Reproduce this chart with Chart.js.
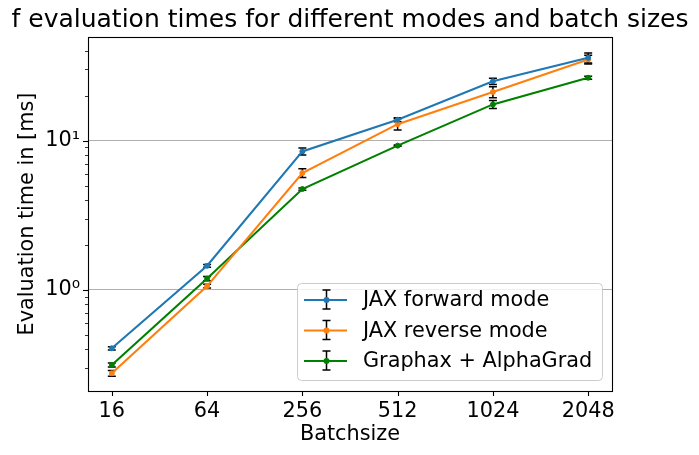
<!DOCTYPE html>
<html>
<head>
<meta charset="utf-8">
<script src="https://cdn.jsdelivr.net/npm/chart.js@4/dist/chart.umd.min.js"></script>
<style>
  html, body { margin: 0; padding: 0; background: #fff; }
  #wrap { width: 699px; height: 455px; }
</style>
</head>
<body>
<div id="wrap"><canvas id="chart" width="699" height="455"></canvas></div>
<script>
// --- Data ---
const batchLabels = ['16', '64', '256', '512', '1024', '2048'];

const forwardTimes = [0.406, 1.45, 8.47, 13.8, 25.0, 35.9];
const forwardErr   = [0.01, 0.03, 0.45, 0.42, 1.2, 2.8];

const reverseTimes = [0.276, 1.06, 6.07, 12.9, 21.2, 35.0];
const reverseErr   = [0.012, 0.03, 0.4, 1.1, 1.8, 2.4];

const alphaTimes = [0.314, 1.19, 4.74, 9.26, 17.5, 26.4];
const alphaErr   = [0.01, 0.04, 0.08, 0.1, 1.1, 0.6];

const seriesNames = ['JAX forward mode', 'JAX reverse mode', 'Graphax + AlphaGrad'];
const seriesColors = ['#1f77b4', '#ff7f0e', '#008000'];

const yTickValues = [0.3, 0.4, 0.5, 0.6, 0.7, 0.8, 0.9, 1, 2, 3, 4, 5, 6, 7, 8, 9, 10, 20, 30, 40];
const yMajorTicks = [1, 10];
const yMajorLabels = { 1: '10\u2070', 10: '10\u00b9' };

const chartTitle = 'f evaluation times for different modes and batch sizes';

const FONT = 'DejaVu Sans';
Chart.defaults.font.family = FONT;
Chart.defaults.color = '#000';

function toPoints(values) {
    return values.map((v, i) => ({ x: i, y: v }));
}

const allErrors = [forwardErr, reverseErr, alphaErr];
const allTimes = [forwardTimes, reverseTimes, alphaTimes];

// --- Plugins ---

// error bars, drawn under the lines
const errorBarPlugin = {
    id: 'errorBars',
    beforeDatasetsDraw(chart) {
        const ctx = chart.ctx;
        const yScale = chart.scales.y;
        ctx.save();
        ctx.strokeStyle = '#000';
        ctx.lineWidth = 1.5;
        chart.data.datasets.forEach((ds, di) => {
            const meta = chart.getDatasetMeta(di);
            meta.data.forEach((pt, j) => {
                const v = allTimes[di][j];
                const e = allErrors[di][j];
                const yTop = yScale.getPixelForValue(v + e);
                const yBot = yScale.getPixelForValue(v - e);
                ctx.beginPath();
                ctx.moveTo(pt.x, yTop);
                ctx.lineTo(pt.x, yBot);
                ctx.moveTo(pt.x - 4, yTop);
                ctx.lineTo(pt.x + 4, yTop);
                ctx.moveTo(pt.x - 4, yBot);
                ctx.lineTo(pt.x + 4, yBot);
                ctx.stroke();
            });
        });
        ctx.restore();
    }
};

// title, axes frame, tick marks and the legend box
const framePlugin = {
    id: 'frame',
    afterDraw(chart) {
        const ctx = chart.ctx;
        const area = chart.chartArea;
        const xScale = chart.scales.x;
        const yScale = chart.scales.y;
        ctx.save();

        // title centred over the axes
        ctx.fillStyle = '#000';
        ctx.font = '25px "' + FONT + '"';
        ctx.textAlign = 'center';
        ctx.textBaseline = 'middle';
        ctx.fillText(chartTitle, (area.left + area.right) / 2, 20);

        // tick marks
        ctx.strokeStyle = '#000';
        yTickValues.forEach(v => {
            const y = Math.round(yScale.getPixelForValue(v)) + 0.5;
            const major = yMajorTicks.includes(v);
            ctx.lineWidth = major ? 1.1 : 0.8;
            ctx.beginPath();
            ctx.moveTo(area.left, y);
            ctx.lineTo(area.left - (major ? 5 : 3), y);
            ctx.stroke();
        });
        batchLabels.forEach((b, i) => {
            const x = Math.round(xScale.getPixelForValue(i)) + 0.5;
            ctx.lineWidth = 1.1;
            ctx.beginPath();
            ctx.moveTo(x, area.bottom);
            ctx.lineTo(x, area.bottom + 5);
            ctx.stroke();
        });

        // frame
        ctx.lineWidth = 1.1;
        ctx.strokeRect(area.left + 0.5, area.top + 0.5, area.right - area.left, area.bottom - area.top);

        // legend
        const lx = 297, ly = 283, lw = 305, lh = 97;
        ctx.beginPath();
        ctx.roundRect(lx + 0.5, ly + 0.5, lw, lh, 4);
        ctx.fillStyle = 'rgba(255,255,255,0.8)';
        ctx.fill();
        ctx.strokeStyle = '#cccccc';
        ctx.lineWidth = 1;
        ctx.stroke();

        ctx.font = '20.8px "' + FONT + '"';
        ctx.textBaseline = 'middle';
        ctx.textAlign = 'left';
        seriesNames.forEach((name, i) => {
            const cy = 300 + i * 30.5;
            // error bar sample
            ctx.strokeStyle = '#000';
            ctx.lineWidth = 1.5;
            ctx.beginPath();
            ctx.moveTo(326.5, cy - 10);
            ctx.lineTo(326.5, cy + 9);
            ctx.moveTo(322.5, cy - 10);
            ctx.lineTo(330.5, cy - 10);
            ctx.moveTo(322.5, cy + 9);
            ctx.lineTo(330.5, cy + 9);
            ctx.stroke();
            // line sample
            ctx.strokeStyle = seriesColors[i];
            ctx.lineWidth = 2.1;
            ctx.beginPath();
            ctx.moveTo(304, cy);
            ctx.lineTo(347, cy);
            ctx.stroke();
            ctx.fillStyle = seriesColors[i];
            ctx.beginPath();
            ctx.arc(326.5, cy, 3, 0, Math.PI * 2);
            ctx.fill();
            // label
            ctx.fillStyle = '#000';
            ctx.fillText(name, 363, cy + 1);
        });
        ctx.restore();
    }
};

// --- Chart ---
const datasets = seriesNames.map((name, i) => ({
    label: name,
    data: toPoints(allTimes[i]),
    borderColor: seriesColors[i],
    backgroundColor: seriesColors[i],
    borderWidth: 2.1,
    pointRadius: 2.5,
    pointBorderWidth: 1,
    pointHoverRadius: 2.5,
    tension: 0
}));

new Chart(document.getElementById('chart').getContext('2d'), {
    type: 'line',
    data: { datasets },
    options: {
        responsive: false,
        animation: false,
        devicePixelRatio: 1,
        layout: { padding: { left: 0, right: 87, top: 37, bottom: 0 } },
        plugins: {
            legend: { display: false },
            tooltip: { enabled: false },
            title: { display: false }
        },
        scales: {
            x: {
                type: 'linear',
                min: -0.25,
                max: 5.25,
                afterBuildTicks: scale => {
                    scale.ticks = batchLabels.map((b, i) => ({ value: i }));
                },
                afterFit: scale => { scale.height = 64; },
                grid: { display: false, drawTicks: false },
                border: { display: false },
                ticks: {
                    autoSkip: false,
                    maxRotation: 0,
                    padding: 8,
                    font: { size: 20.8 },
                    callback: value => batchLabels[value]
                },
                title: {
                    display: true,
                    text: 'Batchsize',
                    font: { size: 20.8 },
                    padding: { top: 0, bottom: 8 }
                }
            },
            y: {
                type: 'logarithmic',
                min: 0.21,
                max: 49.5,
                afterBuildTicks: scale => {
                    scale.ticks = yTickValues.map(v => ({ value: v, major: yMajorTicks.includes(v) }));
                },
                afterFit: scale => { scale.width = 88; },
                grid: {
                    drawTicks: false,
                    lineWidth: 1.1,
                    color: ctx => (ctx.tick && yMajorTicks.includes(ctx.tick.value)) ? '#b0b0b0' : 'rgba(0,0,0,0)'
                },
                border: { display: false },
                ticks: {
                    autoSkip: false,
                    padding: 8,
                    font: { size: 20.8 },
                    callback: value => yMajorLabels[value] || ''
                },
                title: {
                    display: true,
                    text: 'Evaluation time in [ms]',
                    font: { size: 20.8 },
                    padding: { top: 15, bottom: 0 }
                }
            }
        }
    },
    plugins: [errorBarPlugin, framePlugin]
});
</script>
</body>
</html>
